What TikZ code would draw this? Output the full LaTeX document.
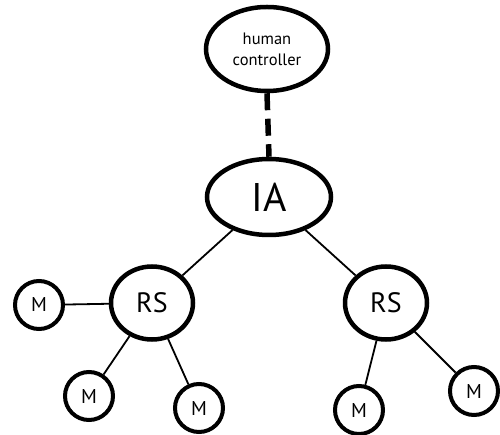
\documentclass[tikz,border=0pt]{standalone}
\usepackage{fontspec}
\setmainfont{PT Sans}
\usetikzlibrary{shapes.geometric}
\begin{document}
\begin{tikzpicture}[x=1pt,y=-1pt,
  bubble/.style={ellipse,draw,line width=4.5pt,inner sep=0pt},
  unit/.style={circle,draw,line width=4pt,inner sep=0pt,minimum size=48pt,font=\fontsize{20}{22}\selectfont},
  link/.style={line width=1.8pt},
  supervise/.style={line width=5.5pt,dash pattern=on 17pt off 8.5pt}]
  \useasboundingbox (0,0) rectangle (500,435);
  \clip (0,0) rectangle (500,435);
  % top of the hierarchy
  \node[bubble,minimum width=122pt,minimum height=84pt,align=center,
        font=\fontsize{16.5}{21}\selectfont] (hc) at (267,49) {human\\controller};
  \node[bubble,minimum width=124pt,minimum height=76pt,
        font=\fontsize{40}{44}\selectfont] (ia) at (269,197) {IA};
  % relay stations
  \node[bubble,minimum width=82pt,minimum height=73pt,
        font=\fontsize{28}{30}\selectfont] (rsl) at (152,303) {RS};
  \node[bubble,minimum width=82pt,minimum height=73pt,
        font=\fontsize{28}{30}\selectfont] (rsr) at (386,303) {RS};
  % members
  \node[unit] (m1) at (39,305) {M};
  \node[unit] (m2) at (89,396) {M};
  \node[unit] (m3) at (199,408) {M};
  \node[unit] (m4) at (359,410) {M};
  \node[unit] (m5) at (474,391) {M};
  % connections
  \draw[supervise] (hc.south) -- (ia.north);
  \draw[link] (ia) -- (rsl);
  \draw[link] (ia) -- (rsr);
  \draw[link] (rsl) -- (m1);
  \draw[link] (rsl) -- (m2);
  \draw[link] (rsl) -- (m3);
  \draw[link] (rsr) -- (m4);
  \draw[link] (rsr) -- (m5);
\end{tikzpicture}
\end{document}
